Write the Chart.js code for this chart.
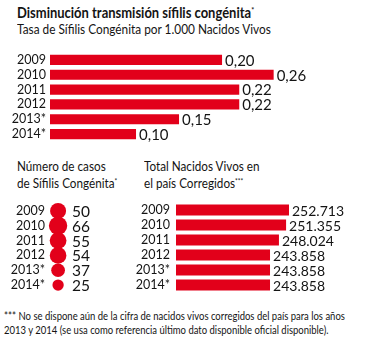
<!DOCTYPE html>
<html>
<head>
<meta charset="utf-8">
<script src="https://cdn.jsdelivr.net/npm/chart.js@4/dist/chart.umd.min.js"></script>
<style>
  html, body { margin: 0; padding: 0; background: #fff; }
  body { width: 370px; height: 342px; position: relative; overflow: hidden; font-family: Lato, "Open Sans", sans-serif; color: #141414; }
  .txt { position: absolute; white-space: nowrap; transform-origin: 0 0; }
  canvas { position: absolute; }
  sup { font-size: 0.55em; vertical-align: 0.6em; }
</style>
</head>
<body>
<div class="txt" id="title" style="left:17px; top:4px; font-size:14.5px; font-weight:700; transform:scaleX(0.895);">Disminución transmisión sífilis congénita<sup>*</sup></div>
<div class="txt" style="left:17px; top:21px; font-size:13px; transform:scaleX(0.91);">Tasa de Sífilis Congénita por 1.000 Nacidos Vivos</div>

<canvas id="rateChart" width="370" height="112" style="left:0; top:41px;"></canvas>

<div class="txt" style="left:17px; top:159px; font-size:13px; line-height:15px; transform:scaleX(0.9);">Número de casos<br>de Sífilis Congénita<sup>*</sup></div>
<canvas id="casesChart" width="140" height="114" style="left:0; top:191px;"></canvas>

<div class="txt" style="left:144px; top:159px; font-size:13px; line-height:15px; transform:scaleX(0.9);">Total Nacidos Vivos en<br>el país Corregidos<sup>***</sup></div>
<canvas id="birthsChart" width="250" height="117" style="left:120px; top:189px;"></canvas>

<div class="txt" style="left:4px; top:309px; font-size:11px; line-height:14px; transform:scaleX(0.862);">*** No se dispone aún de la cifra de nacidos vivos corregidos del país para los años<br>2013 y 2014 (se usa como referencia último dato disponible oficial disponible).</div>

<script>
// Years shown on every panel (provisional years flagged with *)
const years = ['2009', '2010', '2011', '2012', '2013*', '2014*'];
// Congenital syphilis rate per 1,000 live births
const rates = [0.20, 0.26, 0.22, 0.22, 0.15, 0.10];
// Number of congenital syphilis cases
const cases = [50, 66, 55, 54, 37, 25];
// Corrected live births in the country
const births = [252713, 251355, 248024, 243858, 243858, 243858];

const RED = '#e2001a';
const FONT = 'Lato, "Open Sans", sans-serif';
const TEXT = '#141414';

const fmtRate = v => v.toFixed(2).replace('.', ',');
const fmtThousands = v => String(v).replace(/\B(?=(\d{3})+(?!\d))/g, '.');

// Draws each value as text just to the right of its mark
function valueLabels(format, size, gap) {
  return {
    id: 'valueLabels',
    afterDatasetsDraw(chart) {
      const ctx = chart.ctx;
      const meta = chart.getDatasetMeta(0);
      const values = chart.data.datasets[0].values;
      ctx.save();
      ctx.font = size + 'px ' + FONT;
      ctx.fillStyle = TEXT;
      ctx.textAlign = 'left';
      ctx.textBaseline = 'middle';
      meta.data.forEach((el, i) => {
        ctx.fillText(format(values[i]), el.x + gap, el.y + 1);
      });
      ctx.restore();
    }
  };
}

function yearAxis(width, pad) {
  return {
    type: 'category',
    offset: true,
    grid: { display: false, drawTicks: false },
    border: { display: false },
    ticks: { color: TEXT, padding: pad, autoSkip: false, font: { family: FONT, size: 12.5 } },
    afterFit(scale) { scale.width = width; }
  };
}

const common = {
  responsive: false,
  animation: false,
  events: [],
  layout: { padding: 0 },
  plugins: { legend: { display: false }, tooltip: { enabled: false } }
};

// Rate per 1,000 live births
new Chart(document.getElementById('rateChart'), {
  type: 'bar',
  data: {
    labels: years,
    datasets: [{ data: rates, values: rates, backgroundColor: RED, borderWidth: 0,
                 categoryPercentage: 1, barPercentage: 0.69 }]
  },
  options: Object.assign({}, common, {
    indexAxis: 'y',
    scales: {
      x: { display: false, min: 0, max: 0.372 },
      y: yearAxis(50, 4)
    }
  }),
  plugins: [valueLabels(fmtRate, 15, 3)]
});

// Case counts as circles whose area follows the count
new Chart(document.getElementById('casesChart'), {
  type: 'bubble',
  data: {
    labels: years,
    datasets: [{
      data: cases.map((v, i) => ({ x: 0, y: years[i], r: 1.13 * Math.sqrt(v) })),
      values: cases,
      backgroundColor: RED,
      borderWidth: 0,
      clip: false
    }]
  },
  options: Object.assign({}, common, {
    scales: {
      x: { display: false, min: -1, max: 9 },
      y: yearAxis(50, 5)
    }
  }),
  plugins: [valueLabels(String, 15.5, 14)]
});

// Corrected live births
new Chart(document.getElementById('birthsChart'), {
  type: 'bar',
  data: {
    labels: years,
    datasets: [{ data: births, values: births, backgroundColor: RED, borderWidth: 0,
                 categoryPercentage: 1, barPercentage: 0.72 }]
  },
  options: Object.assign({}, common, {
    indexAxis: 'y',
    scales: {
      x: { display: false, min: 200000, max: 290500 },
      y: yearAxis(56, 6)
    }
  }),
  plugins: [valueLabels(fmtThousands, 14, 3)]
});
</script>
</body>
</html>
